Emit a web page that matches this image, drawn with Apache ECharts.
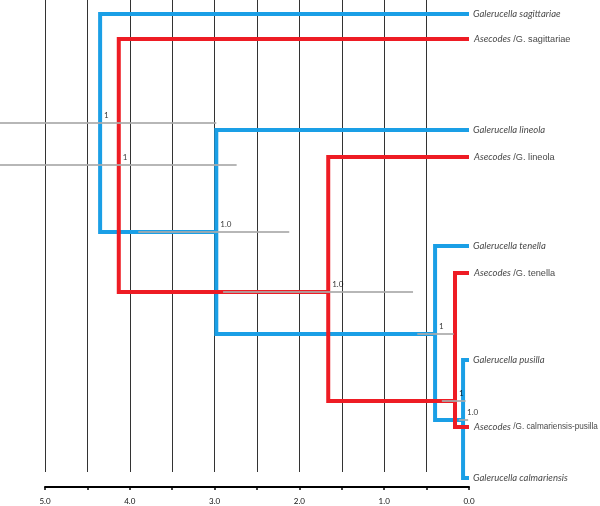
<!DOCTYPE html>
<html><head><meta charset="utf-8">
<script src="https://cdn.jsdelivr.net/npm/echarts@6/dist/echarts.min.js"></script>
<style>html,body{margin:0;padding:0;background:#fff}#c{width:600px;height:506px}</style>
</head><body><div id="c"></div>
<script>
// time axis (Myr before present)
const axisTicks = [5.0, 4.5, 4.0, 3.5, 3.0, 2.5, 2.0, 1.5, 1.0, 0.5, 0.0];

// Galerucella (blue) tree
const blueLeafNames = ['Galerucella sagittariae', 'Galerucella lineola', 'Galerucella tenella', 'Galerucella pusilla', 'Galerucella calmariensis'];
const blueLeafY = [1.4, 13.0, 24.6, 36.0, 47.8];
const blueNodeAge = [0.07, 0.40, 2.98, 4.35];
const blueNodeY = [42.0, 33.4, 23.2, 12.3];
const blueNodeKids = [['L3', 'L4'], ['L2', 'N0'], ['L1', 'N1'], ['L0', 'N2']];
const blueHpd = [[0.01, 0.12], [0.18, 0.61], [2.12, 3.90], [2.98, 5.7]];
const blueSupport = ['1.0', '1', '1.0', '1'];

// Asecodes (red) tree
const redLeafNames = ['/G. sagittariae', '/G. lineola', '/G. tenella', '/G. calmariensis-pusilla'];
const redLeafY = [3.9, 15.7, 27.3, 42.7];
const redNodeAge = [0.165, 1.66, 4.13];
const redNodeY = [40.1, 29.2, 16.5];
const redNodeKids = [['L2', 'L3'], ['L1', 'N0'], ['L0', 'N1']];
const redHpd = [[0.04, 0.32], [0.66, 2.90], [2.74, 5.7]];
const redSupport = ['1', '1.0', '1'];

function buildTree(leafY, nodeAge, nodeY, kids) {
  const pos = id => id[0] === 'L' ? [0, leafY[+id.slice(1)]] : [nodeAge[+id.slice(1)], nodeY[+id.slice(1)]];
  return kids.map((k, i) => {
    const a = pos(k[0]), b = pos(k[1]);
    return { coords: [[a[0], a[1]], [nodeAge[i], a[1]], [nodeAge[i], b[1]], [b[0], b[1]]] };
  });
}
function hpdLines(hpd, nodeY) {
  return hpd.map((h, i) => ({ coords: [[h[0], nodeY[i]], [h[1], nodeY[i]]] }));
}

const FONT = 'Lato';
const FS = 9.5;
const PLAIN = 'Liberation Sans';
const BLUE = '#1a9fe6', RED = '#ee1c24', GREY = 'rgba(170,170,170,0.85)';
const chart = echarts.init(document.getElementById('c'));
chart.setOption({
  animation: false,
  backgroundColor: '#fff',
  grid: { left: 45, right: 131, top: 0, bottom: 34 },
  xAxis: {
    type: 'value', inverse: true, min: 0, max: 5, interval: 0.5, offset: 15, position: 'bottom',
    axisLine: { show: true, onZero: false, lineStyle: { color: '#000', width: 2 } },
    axisTick: { show: true, length: 3, lineStyle: { color: '#000', width: 1.5 } },
    axisLabel: { margin: 10, fontSize: 8, color: '#111', fontFamily: FONT,
      formatter: v => (Math.abs(v - Math.round(v)) < 1e-6 ? v.toFixed(1) : '') },
    splitLine: { show: true, showMinLine: false, showMaxLine: true, lineStyle: { color: '#333', width: 1 } }
  },
  yAxis: { type: 'value', inverse: true, min: 0, max: 47.2, show: false, splitLine: { show: false } },
  series: [
    { type: 'lines', coordinateSystem: 'cartesian2d', polyline: true, clip: false, z: 3,
      lineStyle: { color: BLUE, width: 4, opacity: 1, join: 'miter', cap: 'butt' },
      data: buildTree(blueLeafY, blueNodeAge, blueNodeY, blueNodeKids) },
    { type: 'lines', coordinateSystem: 'cartesian2d', polyline: true, clip: false, z: 4,
      lineStyle: { color: RED, width: 4, opacity: 1, join: 'miter', cap: 'butt' },
      data: buildTree(redLeafY, redNodeAge, redNodeY, redNodeKids) },
    { type: 'lines', coordinateSystem: 'cartesian2d', clip: false, z: 5,
      lineStyle: { color: GREY, width: 2, opacity: 1 },
      data: hpdLines(blueHpd, blueNodeY).concat(hpdLines(redHpd, redNodeY)) },
    { type: 'scatter', symbolSize: 0, clip: false, z: 6,
      label: { show: true, position: 'right', distance: 4, fontSize: FS, color: '#111', fontFamily: FONT, fontStyle: 'italic',
        formatter: p => p.name },
      data: blueLeafNames.map((n, i) => ({ name: n, value: [0, blueLeafY[i]] })) },
    { type: 'scatter', symbolSize: 0, clip: false, z: 6,
      label: { show: true, position: 'right', distance: 5, fontSize: FS, color: '#111', fontFamily: FONT,
        formatter: p => '{i|Asecodes} {' + (p.name.length > 20 ? 's' : 'n') + '|' + p.name + '}',
        rich: { i: { fontStyle: 'italic', fontSize: FS, fontFamily: FONT, color: '#111' },
                n: { fontSize: 9.2, fontFamily: PLAIN, color: '#111' },
                s: { fontSize: 8.2, fontFamily: PLAIN, color: '#111' } } },
      data: redLeafNames.map((n, i) => ({ name: n, value: [0, redLeafY[i]] })) },
    { type: 'scatter', symbolSize: 0, clip: false, z: 7,
      label: { show: true, position: 'right', distance: 4, offset: [0, -8], fontSize: 8, color: '#000', fontFamily: FONT,
        formatter: p => p.name },
      data: blueSupport.map((s, i) => ({ name: s, value: [blueNodeAge[i], blueNodeY[i]] }))
        .concat(redSupport.map((s, i) => ({ name: s, value: [redNodeAge[i], redNodeY[i]] }))) }
  ]
});
</script></body></html>
